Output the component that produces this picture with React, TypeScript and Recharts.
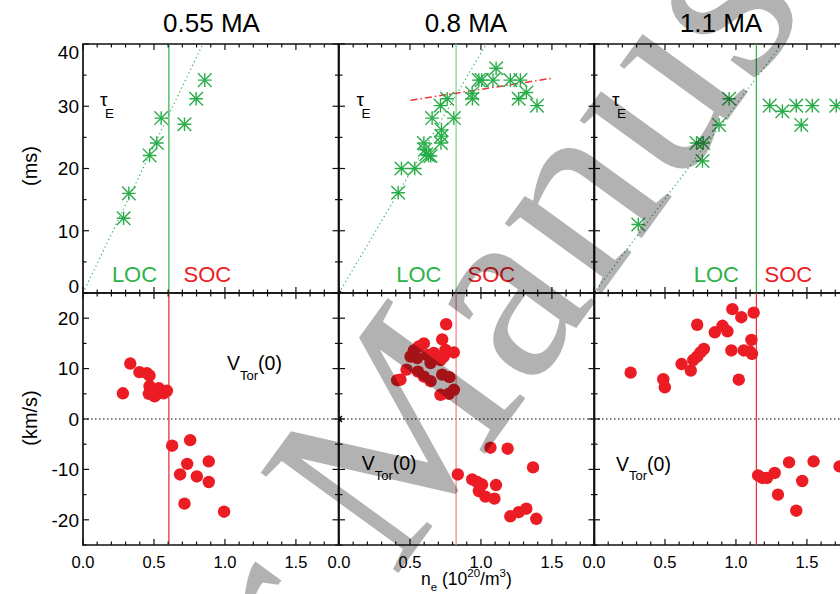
import React from "react";
import { ScatterChart, Scatter, XAxis, YAxis, ReferenceLine, ReferenceArea } from "recharts";

// ---- data (n_e in 1e20/m3) ----
// upper row: energy confinement time tau_E (ms)
const tauNe055 = [0.286, 0.323, 0.469, 0.52, 0.551, 0.715, 0.797, 0.858];
const tau055 = [12.0, 16.0, 22.1, 24.1, 28.1, 27.1, 31.2, 34.2];

const tauNe08 = [0.417, 0.44, 0.534, 0.598, 0.605, 0.615, 0.63, 0.645, 0.656, 0.715, 0.722, 0.722, 0.718, 0.762, 0.809, 0.938, 0.94, 0.985, 1.005, 1.085, 1.107, 1.207, 1.278, 1.32, 1.266, 1.395];
const tau08 = [16.1, 20.0, 20.0, 24.1, 23.0, 22.3, 22.1, 22.0, 28.1, 30.1, 26.2, 25.2, 24.1, 31.2, 28.1, 32.1, 31.2, 34.2, 34.2, 34.2, 36.1, 34.2, 34.2, 32.2, 31.2, 30.1];

const tauNe11 = [0.312, 0.722, 0.769, 0.764, 0.881, 0.952, 1.238, 1.327, 1.425, 1.46, 1.538, 1.707];
const tau11 = [11.0, 24.1, 24.1, 21.2, 27.0, 31.2, 30.1, 29.2, 30.1, 27.0, 30.1, 30.1];

// lower row: core toroidal rotation V_Tor(0) (km/s)
const vNe055 = [0.281, 0.333, 0.398, 0.45, 0.469, 0.469, 0.464, 0.504, 0.492, 0.534, 0.567, 0.591, 0.527, 0.628, 0.755, 0.684, 0.734, 0.802, 0.886, 0.886, 0.715, 0.994];
const v055 = [5.1, 11.0, 9.3, 9.1, 8.6, 6.5, 5.0, 4.5, 5.5, 6.1, 5.1, 5.6, 5.1, -5.3, -4.2, -11.0, -8.9, -11.4, -8.4, -12.5, -16.8, -18.4];

const vNe08 = [0.755, 0.727, 0.598, 0.563, 0.527, 0.504, 0.551, 0.621, 0.668, 0.715, 0.738, 0.75, 0.809, 0.645, 0.476, 0.556, 0.598, 0.645, 0.41, 0.433, 0.727, 0.778, 0.715, 0.774, 0.809, 0.837, 1.067, 1.188, 1.367, 0.938, 0.973, 1.008, 1.106, 0.985, 1.031, 1.095, 1.207, 1.266, 1.32, 1.39];
const v08 = [18.8, 15.8, 15.0, 14.4, 13.6, 12.4, 12.1, 12.7, 13.1, 11.7, 12.4, 13.7, 13.2, 11.1, 9.8, 9.4, 8.4, 7.5, 7.7, 7.8, 8.8, 8.3, 4.8, 5.0, 5.8, -11.0, -5.7, -5.9, -9.6, -12.0, -12.5, -13.0, -13.1, -14.3, -15.4, -15.8, -19.3, -18.5, -17.8, -19.8];

const vNe11 = [0.258, 0.488, 0.499, 0.617, 0.682, 0.699, 0.727, 0.75, 0.774, 0.727, 0.851, 0.905, 0.94, 0.975, 1.038, 1.125, 1.109, 0.968, 1.055, 1.097, 1.113, 1.02, 1.156, 1.186, 1.219, 1.273, 1.296, 1.374, 1.467, 1.425, 1.547, 1.73];
const v11 = [9.2, 7.9, 6.3, 10.9, 9.6, 11.7, 12.4, 13.2, 13.9, 18.7, 17.2, 18.5, 17.4, 21.8, 20.2, 21.1, 15.7, 13.6, 13.6, 13.4, 12.9, 7.8, -11.2, -11.7, -11.7, -10.7, -15.0, -8.6, -12.3, -18.2, -8.4, -9.4];

// LOC -> SOC transition density per current
const currents = ["0.55 MA", "0.8 MA", "1.1 MA"];
const transitionNe = [0.605, 0.825, 1.144];
// end point of the dotted linear (LOC) line through the origin
const locFitEnd = [
  { x: 0.844, y: 40 },
  { x: 1.038, y: 40 },
  { x: 1.324, y: 40 },
];
// red dash-dot saturation line (0.8 MA)
const socTrend = [
  { x: 0.504, y: 30.95 },
  { x: 1.5, y: 34.5 },
];

const xDomain: [number, number] = [0, 1.8];
const xTicks = [0, 0.1, 0.2, 0.3, 0.4, 0.5, 0.6, 0.7, 0.8, 0.9, 1.0, 1.1, 1.2, 1.3, 1.4, 1.5, 1.6, 1.7, 1.8];
const xLabels = [0, 0.5, 1.0, 1.5];
const tauDomain: [number, number] = [0, 40];
const tauTicks = [0, 5, 10, 15, 20, 25, 30, 35, 40];
const vDomain: [number, number] = [-25, 25];
const vTicks = [-25, -20, -15, -10, -5, 0, 5, 10, 15, 20, 25];

// ---- layout ----
const COL_LEFT = [83.3, 338.5, 594.3];
const PW = 255.5;
const ROW_TOP = [44.3, 293.3];
const ROW_H = [249, 252];
const ML = 60, MR = 20, MT = 20, MB = 40;
const AX = 1; // axis thickness reserved by recharts

const GREEN = "#2db34a";
const RED = "#ec1c24";
const FONT = "'Liberation Sans', Arial, Helvetica, sans-serif";

const zip = (xs: number[], ys: number[]) => xs.map((x, i) => ({ x, y: ys[i] }));

const Star = ({ cx, cy, color = "#27ad48", r = 6.8 }: any) => {
  if (cx == null || cy == null) return null;
  return (
    <g stroke={color} strokeWidth={1.4}>
      <line x1={cx - r} x2={cx + r} y1={cy} y2={cy} />
      <line x1={cx} x2={cx} y1={cy - r} y2={cy + r} />
      <line x1={cx - r} x2={cx + r} y1={cy - r} y2={cy + r} />
      <line x1={cx - r} x2={cx + r} y1={cy + r} y2={cy - r} />
    </g>
  );
};

const XTick = (props: any) => {
  const { x, payload, h, labels } = props;
  const v = payload.value;
  const major = xLabels.some((m) => Math.abs(m - v) < 1e-6);
  const len = major ? 6 : 3.5;
  const yb = MT + h;
  return (
    <g>
      <line x1={x} x2={x} y1={yb} y2={yb - len} stroke="#111" strokeWidth={1.2} />
      <line x1={x} x2={x} y1={MT} y2={MT + len} stroke="#111" strokeWidth={1.2} />
      {labels && major && (
        <text x={x} y={yb + 23} textAnchor="middle" fontSize={16.5} fontFamily={FONT} fill="#000">
          {v.toFixed(1)}
        </text>
      )}
    </g>
  );
};

const YTick = (props: any) => {
  const { y, payload, domain, labels } = props;
  const v = payload.value;
  const major = v % 10 === 0;
  const len = major ? 6 : 3.5;
  let base = y + 6.8;
  if (v === domain[1]) base = y + 14.5;
  if (v === domain[0]) base = y - 0.5;
  return (
    <g>
      <line x1={ML} x2={ML + len} y1={y} y2={y} stroke="#111" strokeWidth={1.2} />
      <line x1={ML + PW} x2={ML + PW - len} y1={y} y2={y} stroke="#111" strokeWidth={1.2} />
      {labels && major && (
        <text x={ML - 4} y={base} textAnchor="end" fontSize={19} fontFamily={FONT} fill="#000">
          {v}
        </text>
      )}
    </g>
  );
};

type PanelProps = {
  col: number;
  row: number;
  pts: { x: number; y: number }[];
  children?: React.ReactNode;
};

function Panel({ col, row, pts, children }: PanelProps) {
  const h = ROW_H[row];
  const domain = row === 0 ? tauDomain : vDomain;
  const ticks = row === 0 ? tauTicks : vTicks;
  const light = col === 1;
  const lineColor = row === 0 ? (light ? "#86d396" : "#3cb650") : light ? "#f08a8c" : "#e8353b";
  return (
    <div style={{ position: "absolute", left: COL_LEFT[col] - ML, top: ROW_TOP[row] - MT }}>
      <ScatterChart
        width={PW + ML + MR}
        height={h + MT + MB}
        margin={{ top: MT, right: MR, bottom: MB - AX, left: ML - AX }}
      >
        <XAxis
          type="number"
          dataKey="x"
          domain={xDomain}
          ticks={xTicks}
          interval={0}
          height={AX}
          tickSize={0}
          tickMargin={0}
          axisLine={false}
          tickLine={false}
          allowDataOverflow
          tick={<XTick h={h} labels={row === 1} />}
        />
        <YAxis
          type="number"
          dataKey="y"
          domain={domain}
          ticks={ticks}
          interval={0}
          width={AX}
          tickSize={0}
          tickMargin={0}
          axisLine={false}
          tickLine={false}
          allowDataOverflow
          tick={<YTick domain={domain} labels={col === 0} />}
        />
        <ReferenceArea x1={0} x2={1.8} y1={domain[0]} y2={domain[1]} fill="none" stroke="#111" strokeWidth={1.7} />
        {row === 1 && <ReferenceLine y={0} stroke="#000" strokeWidth={1} strokeDasharray="1.5 2.5" />}
        <ReferenceLine x={transitionNe[col]} stroke={lineColor} strokeWidth={1.3} />
        {children}
        {row === 0 ? (
          <Scatter data={pts} isAnimationActive={false} shape={(p: any) => <Star cx={p.cx} cy={p.cy} />} />
        ) : (
          <Scatter data={pts} isAnimationActive={false} shape={(p: any) => <circle cx={p.cx} cy={p.cy} r={6.2} fill={RED} />} />
        )}
      </ScatterChart>
    </div>
  );
}

const originTop = [{ x: 0, y: 0 }];

function Tau({ x }: { x: number }) {
  return (
    <>
      <text x={x} y={106} fontSize={19} fontFamily={FONT}>τ</text>
      <text x={x + 5} y={118} fontSize={13.5} fontFamily={FONT}>E</text>
    </>
  );
}

function VTor({ x, y }: { x: number; y: number }) {
  return (
    <text x={x} y={y} fontSize={19.5} fontFamily={FONT}>
      V<tspan fontSize={13} dy={9.5}>Tor</tspan>
      <tspan dy={-9.5}>(0)</tspan>
    </text>
  );
}

export default function App() {
  const tauPts = [zip(tauNe055, tau055), zip(tauNe08, tau08), zip(tauNe11, tau11)];
  const vPts = [zip(vNe055, v055), zip(vNe08, v08), zip(vNe11, v11)];
  const locX = [134.5, 418.8, 716.3];
  const socX = [207.3, 491.3, 788.3];
  return (
    <div style={{ position: "absolute", left: 0, top: 0, width: 840, height: 594, overflow: "hidden", background: "#fff" }}>
      {[0, 1, 2].map((c) => (
        <Panel key={"t" + c} col={c} row={0} pts={tauPts[c]}>
          <ReferenceLine segment={[{ x: 0, y: 0 }, locFitEnd[c]]} stroke={GREEN} strokeWidth={1.2} strokeDasharray="1.2 3" />
          {c === 1 && <ReferenceLine segment={socTrend} stroke="#f0303a" strokeWidth={1.5} strokeDasharray="7 3 1.5 3" />}
          {c > 0 && (
            <Scatter data={originTop} isAnimationActive={false} shape={(p: any) => <circle cx={p.cx} cy={p.cy} r={2.6} fill="#000" />} />
          )}
        </Panel>
      ))}
      {[0, 1, 2].map((c) => (
        <Panel key={"b" + c} col={c} row={1} pts={vPts[c]}>
          {c === 1 && (
            <Scatter data={originTop} isAnimationActive={false} shape={(p: any) => <Star cx={p.cx} cy={p.cy} r={3} color="#000" />} />
          )}
        </Panel>
      ))}

      <svg width={840} height={594} style={{ position: "absolute", left: 0, top: 0, pointerEvents: "none" }}>
        {currents.map((t, i) => (
          <text key={t} x={[211.5, 466, 721][i]} y={32.3} textAnchor="middle" fontSize={26} fontFamily={FONT}>
            {t}
          </text>
        ))}
        <text transform="translate(37,166) rotate(-90)" textAnchor="middle" fontSize={20} fontFamily={FONT}>(ms)</text>
        <text transform="translate(37,418) rotate(-90)" textAnchor="middle" fontSize={20} fontFamily={FONT}>(km/s)</text>
        {[100, 356.5, 612].map((x) => (
          <Tau key={x} x={x} />
        ))}
        {[0, 1, 2].map((c) => (
          <g key={"loc" + c} fontSize={22} fontFamily={FONT} textAnchor="middle">
            <text x={locX[c]} y={281.7} fill={GREEN}>LOC</text>
            <text x={socX[c]} y={281.7} fill={RED}>SOC</text>
          </g>
        ))}
        <VTor x={227} y={370} />
        <VTor x={361.7} y={470} />
        <VTor x={616} y={470.7} />
        <text x={421} y={585} fontSize={17.5} fontFamily={FONT}>
          n<tspan fontSize={11.5} dy={5.5}>e</tspan>
          <tspan dy={-5.5}> (10</tspan>
          <tspan fontSize={11.5} dy={-8}>20</tspan>
          <tspan dy={8}>/m</tspan>
          <tspan fontSize={11.5} dy={-8}>3</tspan>
          <tspan dy={8}>)</tspan>
        </text>
      </svg>

      {/* watermark */}
      <svg width={840} height={594} style={{ position: "absolute", left: 0, top: 0, pointerEvents: "none" }}>
        <g transform="translate(394,579) rotate(-54)" fill="#000" fillOpacity={0.3} fontFamily="'Liberation Serif', 'DejaVu Serif', serif" fontSize={260}>
          <text x={0} y={0}>Manuscript</text>
          <text x={-65} y={0} textAnchor="end">Author</text>
        </g>
      </svg>
    </div>
  );
}
